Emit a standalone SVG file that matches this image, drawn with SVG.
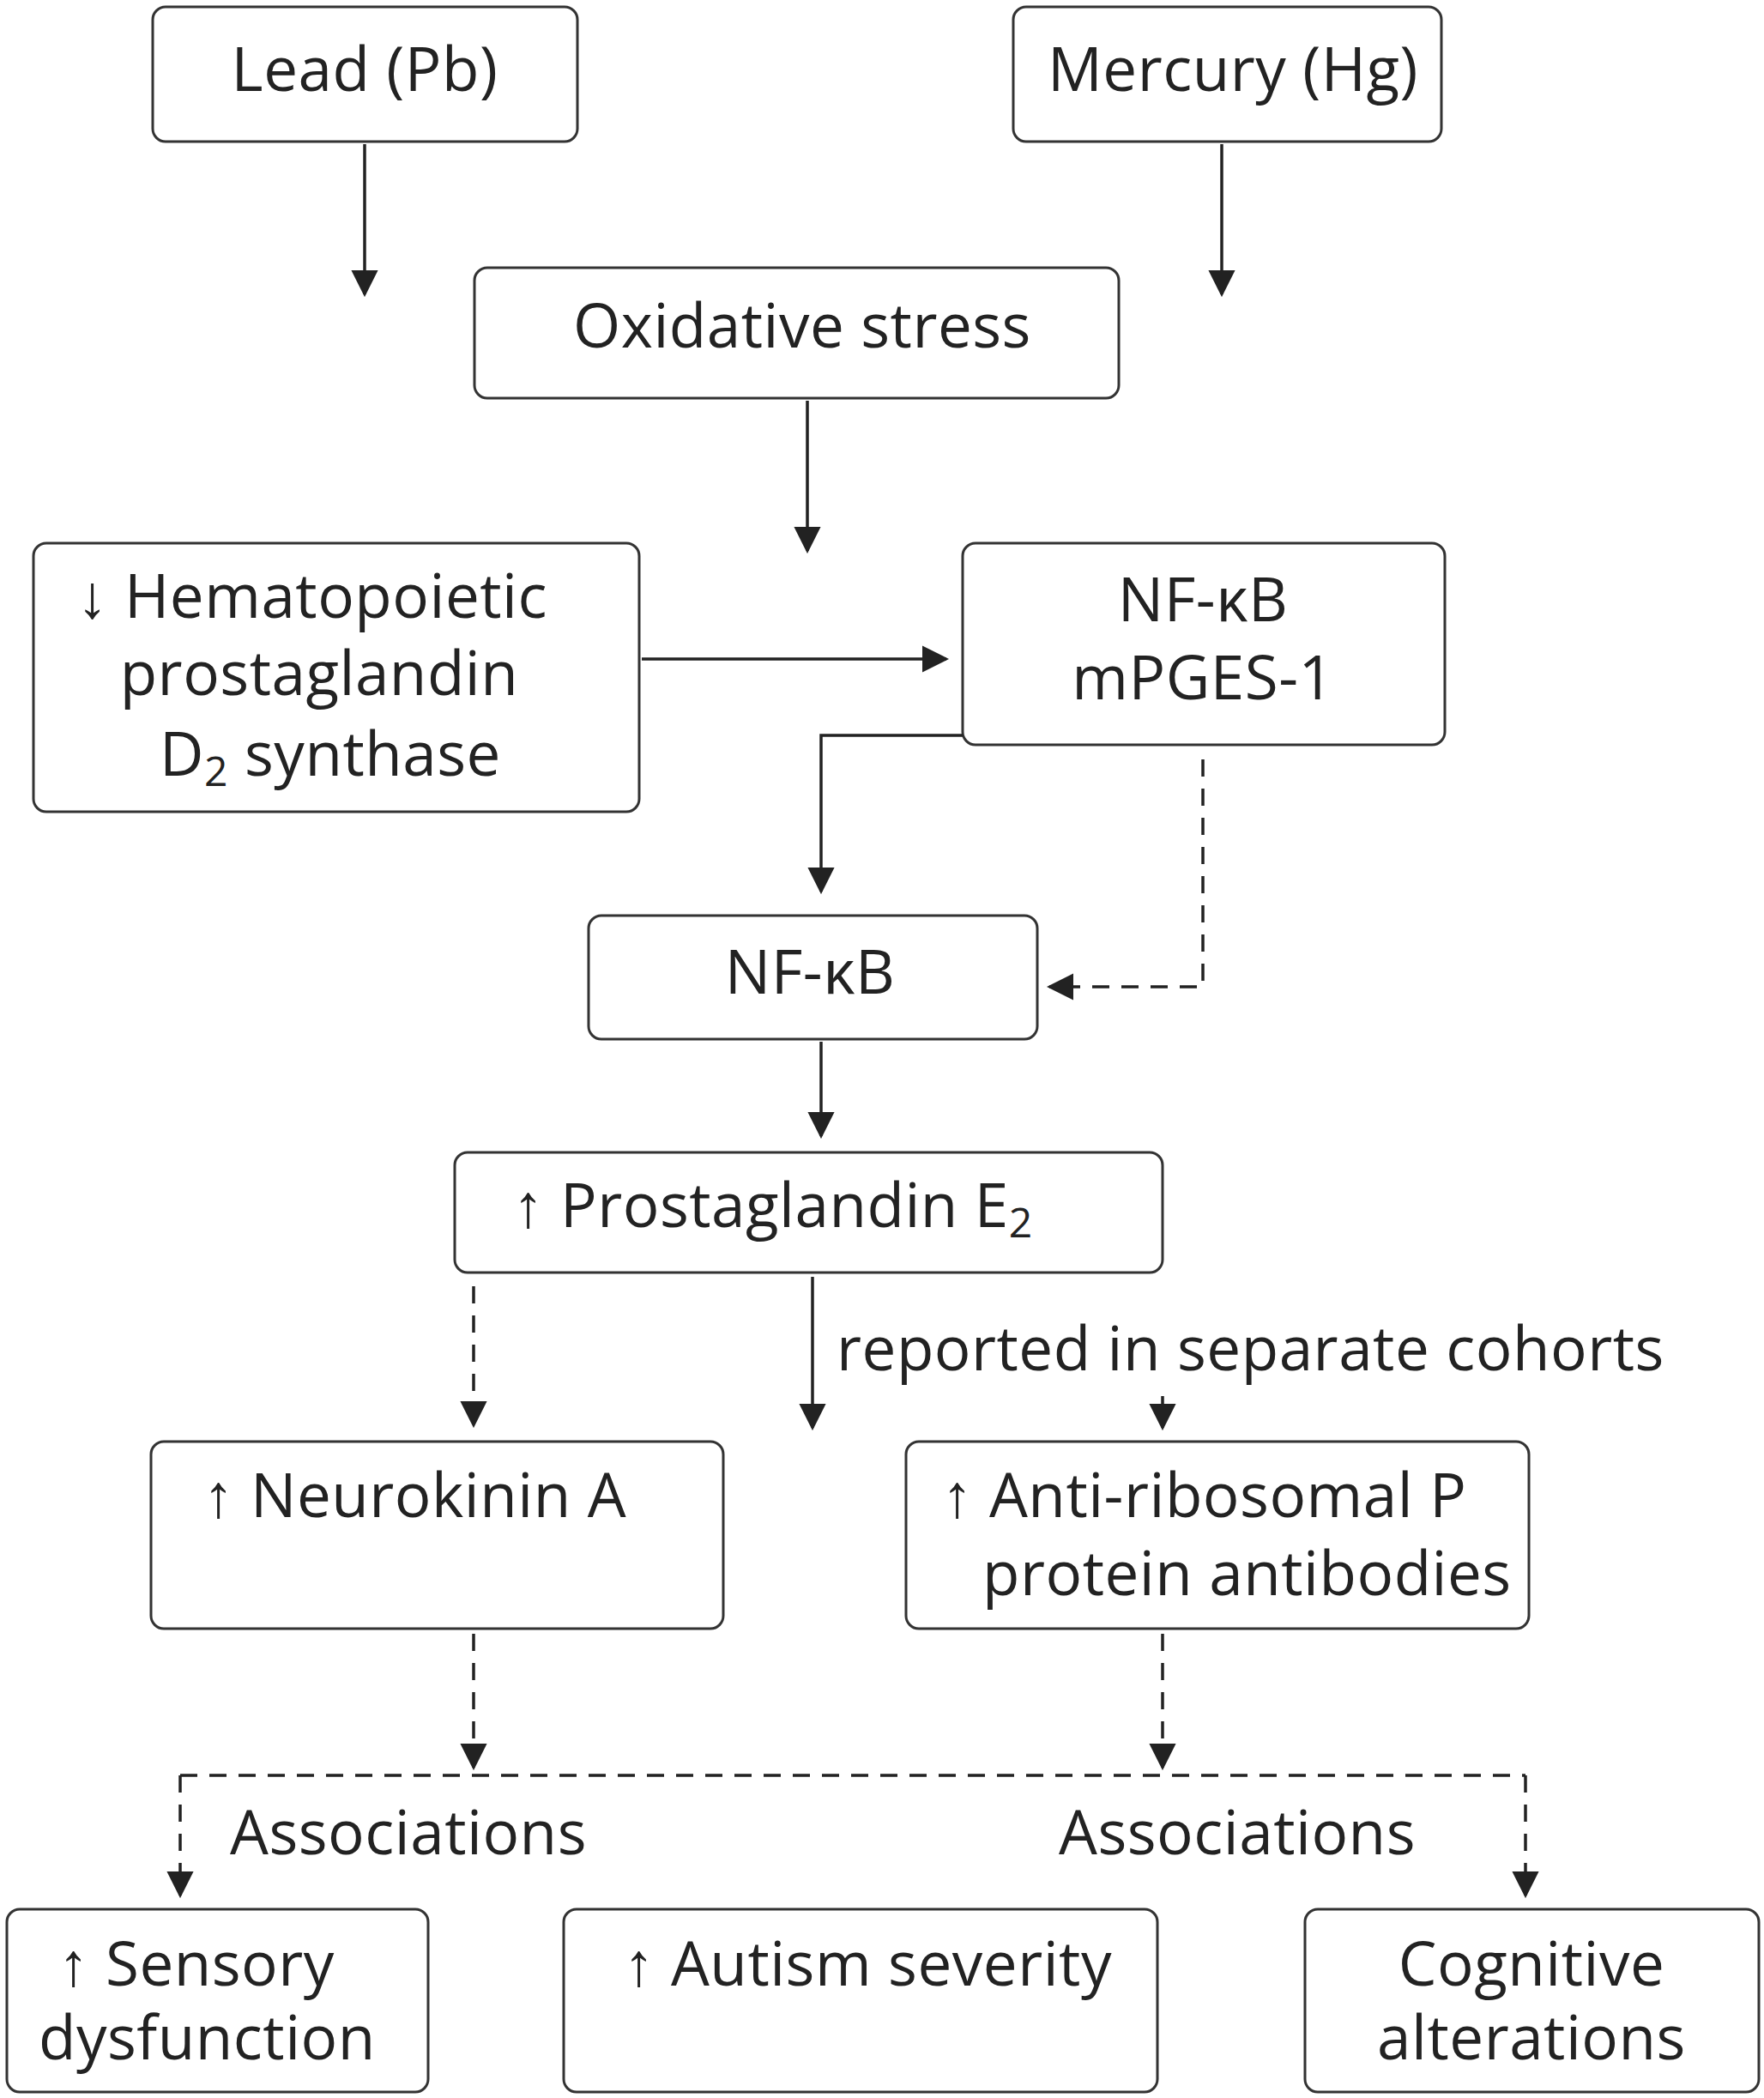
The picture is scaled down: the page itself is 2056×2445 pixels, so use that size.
<svg xmlns="http://www.w3.org/2000/svg" width="2056" height="2445" viewBox="0 0 2056 2445">
<style>
.b{fill:#fff;stroke:#333;stroke-width:3}
text{font-family:"Open Sans","Liberation Sans",sans-serif;font-size:71px;letter-spacing:0.5px;fill:#222}
.c{text-anchor:middle}
.l{fill:none;stroke:#222;stroke-width:3.5}
.d{stroke-dasharray:20 14}
</style>
<defs><marker id="m" viewBox="0 0 10 10" refX="9" refY="5" markerWidth="9" markerHeight="9" orient="auto"><path d="M0,0L10,5L0,10z" fill="#222"/></marker></defs>
<rect width="2056" height="2445" fill="#fff"/>
<g id="lead"><rect class="b" x="178" y="8" width="495" height="157" rx="15"/><text class="c" x="425" y="106">Lead (Pb)</text></g>
<g id="mercury"><rect class="b" x="1181" y="8" width="499" height="157" rx="15"/><text class="c" x="1437" y="106">Mercury (Hg)</text></g>
<g id="ox"><rect class="b" x="553" y="312" width="751" height="152" rx="15"/><text class="c" x="935" y="405">Oxidative stress</text></g>
<g id="hema"><rect class="b" x="39" y="633" width="706" height="313" rx="15"/><text x="90" y="720">↓ Hematopoietic</text><text class="c" x="372" y="810">prostaglandin</text><text class="c" x="385" y="904">D<tspan font-size="48" dy="12">2</tspan><tspan dy="-12"> synthase</tspan></text></g>
<g id="nfm"><rect class="b" x="1122" y="633" width="562" height="235" rx="15"/><text class="c" x="1402" y="724">NF-κB</text><text class="c" x="1402" y="815">mPGES-1</text></g>
<g id="nf"><rect class="b" x="686" y="1067" width="523" height="144" rx="15"/><text class="c" x="944" y="1158">NF-κB</text></g>
<g id="pge"><rect class="b" x="530" y="1343" width="825" height="140" rx="15"/><text x="598" y="1430">↑ Prostaglandin E<tspan font-size="48" dy="12">2</tspan></text></g>
<g id="nka"><rect class="b" x="176" y="1680" width="667" height="218" rx="15"/><text x="237" y="1768">↑ Neurokinin A</text></g>
<g id="anti"><rect class="b" x="1056" y="1680" width="726" height="218" rx="15"/><text x="1098" y="1768">↑ Anti-ribosomal P</text><text x="1145" y="1859">protein antibodies</text></g>
<g id="sens"><rect class="b" x="8" y="2225" width="491" height="213" rx="15"/><text x="68" y="2314">↑ Sensory</text><text x="45" y="2400">dysfunction</text></g>
<g id="aut"><rect class="b" x="657" y="2225" width="692" height="213" rx="15"/><text x="727" y="2314">↑ Autism severity</text></g>
<g id="cog"><rect class="b" x="1521" y="2225" width="529" height="213" rx="15"/><text class="c" x="1785" y="2314">Cognitive</text><text class="c" x="1785" y="2400">alterations</text></g>
<g id="connectors">
<path class="l" marker-end="url(#m)" d="M425,168V343"/>
<path class="l" marker-end="url(#m)" d="M1424,168V343"/>
<path class="l" marker-end="url(#m)" d="M941,467V642"/>
<path class="l" marker-end="url(#m)" d="M748,768H1103"/>
<path class="l" marker-end="url(#m)" d="M1122,857H957V1039"/>
<path class="l d" marker-end="url(#m)" d="M1402,885V1150H1223"/>
<path class="l" marker-end="url(#m)" d="M957,1214V1324"/>
<path class="l d" marker-end="url(#m)" d="M552,1499V1661"/>
<path class="l" marker-end="url(#m)" d="M947,1488V1664"/>
<path class="l d" marker-end="url(#m)" d="M1355,1627V1664"/>
<path class="l d" marker-end="url(#m)" d="M552,1904V2060"/>
<path class="l d" marker-end="url(#m)" d="M1355,1904V2060"/>
<path class="l d" d="M210,2069H1778"/>
<path class="l d" marker-end="url(#m)" d="M210,2069V2209"/>
<path class="l d" marker-end="url(#m)" d="M1778,2069V2209"/>
<text x="975" y="1597" font-size="59" letter-spacing="0">reported in separate cohorts</text>
<text x="268" y="2161">Associations</text>
<text x="1234" y="2161">Associations</text>
</g>
</svg>
